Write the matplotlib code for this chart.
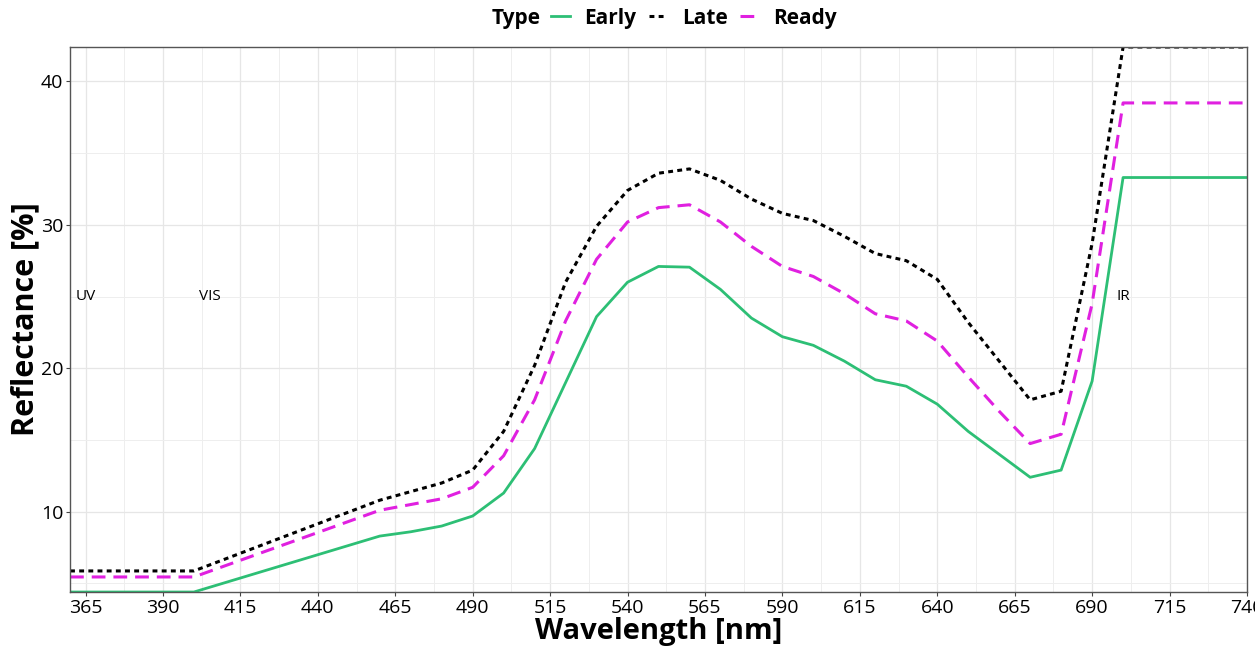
import matplotlib

matplotlib.use("Agg")
import matplotlib.pyplot as plt
from matplotlib.ticker import MultipleLocator, FixedLocator

plt.rcParams["font.family"] = ["Open Sans", "DejaVu Sans"]

# reflectance spectra
wavelength = [360, 400, 460, 470, 480, 490, 500, 510, 520, 530, 540, 550, 560, 570,
              580, 590, 600, 610, 620, 630, 640, 650, 660, 670, 680, 690, 700, 740]
early = [4.4, 4.4, 8.3, 8.6, 9.0, 9.7, 11.3, 14.4, 19.0, 23.6, 26.0, 27.1, 27.05, 25.5,
         23.5, 22.2, 21.6, 20.5, 19.2, 18.75, 17.5, 15.6, 14.0, 12.4, 12.9, 19.1, 33.3, 33.3]
late = [5.87, 5.87, 10.8, 11.4, 12.0, 12.9, 15.6, 20.2, 26.0, 29.9, 32.4, 33.6, 33.9, 33.1,
        31.8, 30.8, 30.3, 29.2, 28.0, 27.5, 26.2, 23.2, 20.5, 17.8, 18.4, 28.7, 42.4, 42.4]
ready = [5.45, 5.45, 10.1, 10.5, 10.9, 11.7, 13.9, 17.8, 23.3, 27.6, 30.2, 31.2, 31.4, 30.2,
         28.5, 27.1, 26.4, 25.2, 23.8, 23.3, 21.9, 19.4, 17.0, 14.75, 15.4, 24.5, 38.5, 38.5]

x_ticks = [365, 390, 415, 440, 465, 490, 515, 540, 565, 590, 615, 640, 665, 690, 715, 740]
y_ticks = [10, 20, 30, 40]

region_labels = ["UV", "VIS", "IR"]
region_x = [365, 405, 700]
region_y = 25

fig = plt.figure(figsize=(12.55, 6.51), dpi=100)
ax = fig.add_axes([0.0558, 0.0906, 0.9378, 0.8372])

ax.plot(wavelength, early, color="#2dbf75", lw=2.0, ls="-", label="Early")
ax.plot(wavelength, late, color="black", lw=2.2, ls=(0, (1.6, 1.4)), label="Late")
ax.plot(wavelength, ready, color="#e020e0", lw=2.2, ls=(0, (4.5, 2.6)), label="Ready")

for lab, xv in zip(region_labels, region_x):
    ax.text(xv, region_y, lab, ha="center", va="center", fontsize=11, color="black")

ax.set_xlim(360, 740)
ax.set_ylim(4.4, 42.4)
ax.xaxis.set_major_locator(FixedLocator(x_ticks))
ax.xaxis.set_minor_locator(FixedLocator([t + 12.5 for t in x_ticks[:-1]]))
ax.yaxis.set_major_locator(FixedLocator(y_ticks))
ax.yaxis.set_minor_locator(MultipleLocator(10, offset=5))
ax.grid(which="major", color="#e6e6e6", lw=0.9)
ax.grid(which="minor", color="#eeeeee", lw=0.7)
ax.set_axisbelow(True)
ax.tick_params(which="major", length=3, color="#444444", labelsize=14, pad=2)
ax.tick_params(which="minor", length=0)
for s in ax.spines.values():
    s.set_color("#555555")
    s.set_linewidth(1.0)

ax.set_xlabel("Wavelength [nm]", fontsize=21, fontweight="bold", labelpad=0)
ax.set_ylabel("Reflectance [%]", fontsize=22, fontweight="bold", labelpad=0)

fig.text(0.411, 0.972, "Type", fontsize=15, fontweight="bold", ha="center", va="center")
leg = fig.legend(loc="center", bbox_to_anchor=(0.553, 0.972), ncol=3, frameon=False,
                 handlelength=0.9, handletextpad=0.7, columnspacing=0.6,
                 prop={"size": 15, "weight": "bold"})

fig.savefig("out.png", dpi=100)
